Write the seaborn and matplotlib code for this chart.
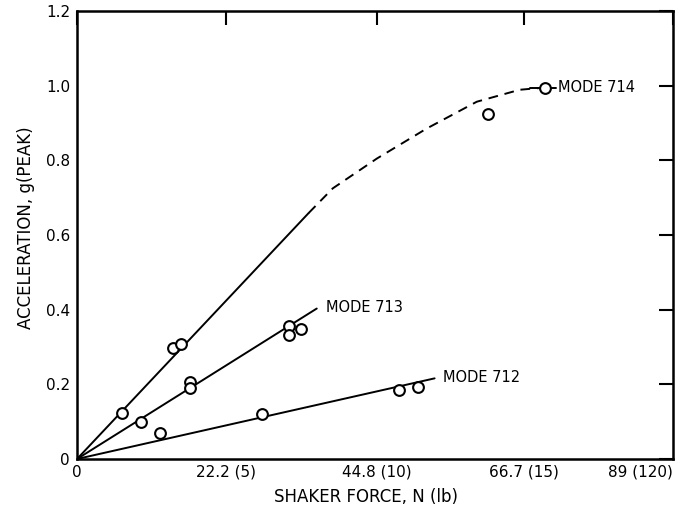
import matplotlib
matplotlib.use("Agg")
import matplotlib.pyplot as plt
import seaborn as sns
import pandas as pd

# ---- data (force in N, acceleration in g peak) ----
mode714_force = [6.7, 14.3, 15.5, 61.3, 69.9]
mode714_accel = [0.123, 0.296, 0.307, 0.923, 0.995]
mode713_force = [9.55, 16.8, 16.8, 31.7, 31.7, 33.4]
mode713_accel = [0.099, 0.205, 0.190, 0.355, 0.333, 0.347]
mode712_force = [12.4, 27.6, 48.1, 50.9]
mode712_accel = [0.069, 0.120, 0.184, 0.192]

# fitted straight lines (start, end)
fit714_force = [0.0, 34.6]
fit714_accel = [0.0, 0.659]
fit713_force = [0.0, 35.8]
fit713_accel = [0.0, 0.403]
fit712_force = [0.0, 53.4]
fit712_accel = [0.0, 0.216]

# dashed extrapolation of mode 714
curve714_force = [34.6, 38.2, 44.8, 52.2, 59.7, 66.1, 69.9]
curve714_accel = [0.659, 0.725, 0.805, 0.885, 0.957, 0.989, 0.995]
leader714_force = [67.6, 71.6]
leader714_accel = [0.995, 0.995]

x_ticks = [0, 22.2, 44.8, 66.7, 89]
x_ticklabels = ["0", "22.2 (5)", "44.8 (10)", "66.7 (15)", "89 (120)"]
y_ticks = [0, 0.2, 0.4, 0.6, 0.8, 1.0, 1.2]
y_ticklabels = ["0", "0.2", "0.4", "0.6", "0.8", "1.0", "1.2"]

labels = ["MODE 714", "MODE 713", "MODE 712"]

sns.set_style("white")
plt.rcParams["font.family"] = ["DejaVu Sans"]
plt.rcParams["text.color"] = "black"
plt.rcParams["axes.labelcolor"] = "black"

fig = plt.figure(figsize=(6.76, 5.13), dpi=100)
ax = fig.add_axes([77 / 676, 1 - 459 / 513, (673 - 77) / 676, (459 - 11) / 513])

lw = 1.4
# fit lines
for fx, fy in [(fit714_force, fit714_accel), (fit713_force, fit713_accel), (fit712_force, fit712_accel)]:
    sns.lineplot(x=fx, y=fy, ax=ax, color="black", linewidth=lw, sort=False)
# dashed curve
sns.lineplot(x=curve714_force, y=curve714_accel, ax=ax, color="black", linewidth=lw,
             sort=False, dashes=False, linestyle=(0, (5, 3.5)))
sns.lineplot(x=leader714_force, y=leader714_accel, ax=ax, color="black", linewidth=lw, sort=False)

# data points
for px, py in [(mode714_force, mode714_accel), (mode713_force, mode713_accel), (mode712_force, mode712_accel)]:
    sns.scatterplot(x=px, y=py, ax=ax, marker="o", s=60, facecolor="white",
                    edgecolor="black", linewidth=1.5, zorder=5)

# mode labels
ax.text(71.9, 0.995, labels[0], fontsize=10.5, va="center", ha="left", color="black")
ax.text(37.2, 0.405, labels[1], fontsize=10.5, va="center", ha="left", color="black")
ax.text(54.6, 0.218, labels[2], fontsize=10.5, va="center", ha="left", color="black")

ax.set_xlim(0, 89)
ax.set_ylim(0, 1.2)
ax.set_xticks(x_ticks)
ax.set_xticklabels(x_ticklabels)
ax.set_yticks(y_ticks)
ax.set_yticklabels(y_ticklabels)
ax.tick_params(direction="in", length=10, width=1.5, top=True, right=True,
               labelsize=11, colors="black", pad=5)
ax.tick_params(axis="x", pad=4)
xl = ax.get_xticklabels()
xl[-1].set_horizontalalignment("right")
xl[-1].set_x(89)
for sp in ax.spines.values():
    sp.set_visible(True)
    sp.set_color("black")
    sp.set_linewidth(1.8)

ax.set_xlabel("SHAKER FORCE, N (lb)", fontsize=12, labelpad=6, color="black")
ax.set_ylabel("ACCELERATION, g(PEAK)", fontsize=12, labelpad=8, color="black")
ax.xaxis.set_label_coords(0.485, -0.065)
ax.yaxis.set_label_coords(-0.071, 0.516)

fig.savefig("out.png", dpi=100, facecolor="white")
